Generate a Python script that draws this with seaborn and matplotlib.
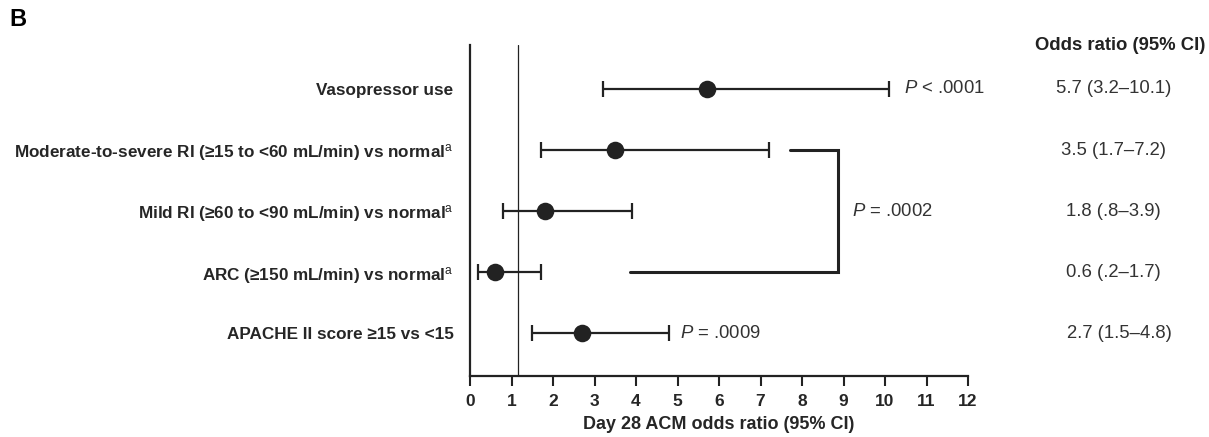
import numpy as np
import pandas as pd
import matplotlib.pyplot as plt
import seaborn as sns

# data
labels = ['Vasopressor use',
          'Moderate-to-severe RI (≥15 to <60 mL/min) vs normal$^{\\mathrm{a}}$',
          'Mild RI (≥60 to <90 mL/min) vs normal$^{\\mathrm{a}}$',
          'ARC (≥150 mL/min) vs normal$^{\\mathrm{a}}$',
          'APACHE II score ≥15 vs <15']
odds = [5.7, 3.5, 1.8, 0.6, 2.7]
ci_low = [3.2, 1.7, 0.8, 0.2, 1.5]
ci_high = [10.1, 7.2, 3.9, 1.7, 4.8]
or_text = ['5.7 (3.2–10.1)', '3.5 (1.7–7.2)', '1.8 (.8–3.9)', '0.6 (.2–1.7)', '2.7 (1.5–4.8)']
ref_line = 1.15

df = pd.DataFrame({'label': labels, 'odds': odds, 'lo': ci_low, 'hi': ci_high})
df['row'] = np.arange(1, len(df) + 1)

sns.set_style('white')
plt.rcParams['font.family'] = ['Liberation Sans', 'DejaVu Sans']
plt.rcParams['mathtext.fontset'] = 'custom'
plt.rcParams['mathtext.rm'] = 'Liberation Sans'
plt.rcParams['mathtext.it'] = 'Liberation Sans:italic'
plt.rcParams['mathtext.bf'] = 'Liberation Sans:bold'

dark = '#222222'
grey = '#333333'
fig = plt.figure(figsize=(12.09, 4.37), dpi=100)
ax = fig.add_axes([0.3888, 0.1396, 0.4119, 0.7574])

# CI whiskers
ax.errorbar(df['odds'], df['row'], xerr=[df['odds'] - df['lo'], df['hi'] - df['odds']],
            fmt='none', ecolor=dark, elinewidth=1.6, capsize=5.5, capthick=1.6, zorder=2)
sns.scatterplot(data=df, x='odds', y='row', color=dark, s=160, edgecolor=dark,
                linewidth=0, zorder=3, ax=ax)

ax.axvline(ref_line, color=dark, lw=0.9, zorder=1)

ax.set_xlim(0, 12)
ax.set_ylim(5.7, 0.28)
ax.set_xticks(range(0, 13))
ax.set_xticklabels([str(i) for i in range(0, 13)], fontsize=12.5, fontweight='bold')
ax.set_yticks(df['row'])
ax.set_yticklabels(df['label'], fontsize=12.3, fontweight='bold')
ax.tick_params(axis='y', length=0, pad=12)
ax.tick_params(axis='x', length=7, width=1.5, direction='out', color=dark, pad=6, bottom=True)
ax.set_xlabel('Day 28 ACM odds ratio (95% CI)', fontsize=13, fontweight='bold', labelpad=5)
ax.set_ylabel('')
for side in ['top', 'right']:
    ax.spines[side].set_visible(False)
for side in ['left', 'bottom']:
    ax.spines[side].set_color(dark)
    ax.spines[side].set_linewidth(1.6)

# p-value annotations
ax.text(10.45, 1, '$P$ < .0001', fontsize=13.3, va='center', color=grey)
ax.text(5.05, 5, '$P$ = .0009', fontsize=13.3, va='center', color=grey)
ax.plot([7.7, 8.87, 8.87, 3.85], [2, 2, 4, 4], color=dark, lw=2.2, solid_joinstyle='miter', clip_on=False)
ax.text(9.2, 3, '$P$ = .0002', fontsize=13.3, va='center', color=grey)

# right column of odds ratios
fig.text(0.997, 0.897, 'Odds ratio (95% CI)', fontsize=13.3, fontweight='bold',
         ha='right', va='center', color=dark)
or_x = [15.5, 15.5, 15.5, 15.5, 15.65]
for r, t, xx in zip(df['row'], or_text, or_x):
    ax.text(xx, r, t, fontsize=13.3, ha='center', va='center', color=grey, clip_on=False)

fig.text(0.008, 0.955, 'B', fontsize=17, fontweight='bold', va='center', color='black')

fig.savefig('out.png', dpi=100)
